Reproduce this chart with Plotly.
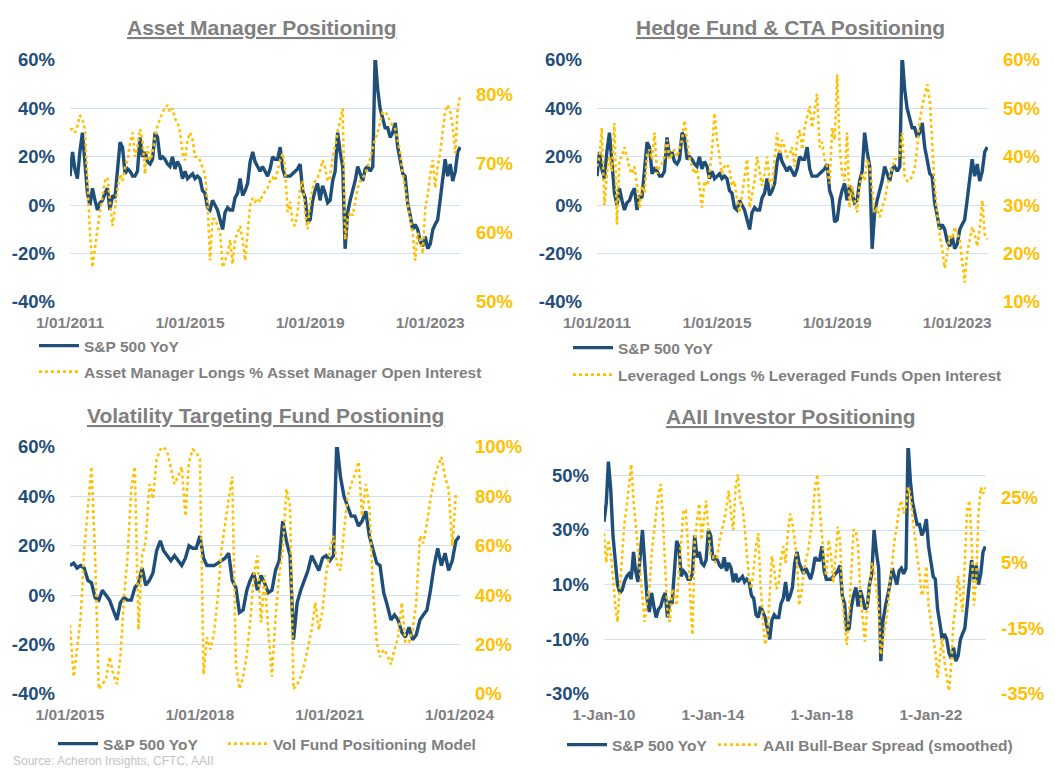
import pandas as pd
import plotly.graph_objects as go

# ---------------- data (monthly) ----------------
# S&P 500 year-on-year change, %, Jan 2010 .. Jan 2024
sp500_yoy = [
    33, 40, 55, 45, 28, 18, 10, 7, 8, 11, 13, 14,            # 2010
    12, 22, 15, 11, 22, 30, 18, 5, 0, 7, 2, -2,              # 2011
    1, 2, 5, 7, -2, 4, 3, 13, 26, 24, 13, 15,                # 2012
    14, 12, 12, 14, 28, 20, 22, 18, 17, 19, 30, 28,          # 2013
    19, 20, 19, 17, 16, 20, 15, 18, 16, 11, 14, 11,          # 2014
    12, 13, 11, 12, 11, 6, 5, -1, -2, 2, 0, -2,              # 2015
    -6, -10, -3, -1, -2, -2, 3, 5, 11, 4, 6, 9,              # 2016
    18, 22, 18, 16, 14, 16, 14, 12, 15, 20, 19, 19,          # 2017
    24, 15, 12, 12, 12, 13, 14, 15, 17, 6, 3, -7,            # 2018
    -6, 2, 6, 9, 2, 8, 5, 1, 2, 10, 14, 30,                  # 2019
    22, 16, -18, -3, 2, 6, 10, 16, 13, 10, 15, 16,           # 2020
    14, 16, 62, 48, 40, 36, 32, 32, 28, 30, 34, 24,          # 2021
    18, 13, 12, 1, -4, -10, -8, -10, -15, -17, -13, -18,     # 2022
    -16, -10, -8, -6, 2, 12, 19, 12, 17, 10, 14, 22,         # 2023
    24,                                                      # 2024
]

# Asset Manager Longs % Asset Manager Open Interest, %, Jan 2011 .. Jan 2024
am_longs = [
    75, 75, 74.5, 75.5, 77, 76.5, 75, 67, 60, 55, 58, 60.5,
    63, 65.5, 67.5, 68, 64.5, 61, 63.5, 66.5, 68.5, 67.5, 69.5, 70.5,
    73, 74.5, 71, 72.5, 75, 73.5, 68.5, 72.5, 70.5, 71.5, 74, 75.5,
    76.5, 77.5, 78, 78.5, 77.5, 78, 76.5, 76, 74.5, 71.5, 70.5, 73.5,
    74.5, 73.5, 71, 71, 70.5, 69.5, 68.5, 64.5, 56, 62, 62, 61,
    60, 55, 56, 57, 59, 55.5, 59, 60, 61, 59, 56, 60,
    64, 65, 64.5, 65, 64.5, 65.5, 66, 66.5, 67.5, 68, 67.5, 69,
    70.5, 71.5, 69.5, 63, 64.5, 61.5, 61, 63, 66.5, 67.5, 63, 60.5,
    64.5, 66.5, 67.5, 68, 69, 70.5, 69.5, 67.5, 68, 71, 72.5, 74.5,
    76.5, 78, 59, 62, 63, 62.5, 64.5, 66.5, 67.5, 68, 68.5, 69.5,
    71, 72.5, 73.5, 74.5, 76, 77.5, 77.5, 77, 76, 75.5, 75, 73.5,
    71.5, 68.5, 66.5, 64, 62, 60, 56, 60, 59, 57, 63.5, 65.5,
    68.5, 70.5, 66.5, 69.5, 71.5, 74.5, 77.5, 78.5, 77.5, 75.5, 71.5, 78,
    80,
]

# Leveraged Longs % Leveraged Funds Open Interest, %, Jan 2011 .. Jan 2024
lev_longs = [
    38, 40, 46, 30, 36.5, 40, 37, 47, 26, 39.5, 40, 42,
    40, 37.5, 36.5, 38, 34, 29.5, 34, 32.5, 40.5, 41.5, 39.5, 45,
    36.5, 38, 38.5, 40, 43.5, 39.5, 40.5, 41.5, 40, 42, 43.5, 47.5,
    43.5, 39.5, 38, 36.5, 37.5, 34, 29.5, 35, 34, 36.5, 41.5, 49,
    43.5, 39.5, 36.5, 38, 38.5, 37.5, 34, 35, 31, 28.5, 32, 35,
    39.5, 29.5, 32.5, 35, 40, 36.5, 34, 36.5, 40, 35, 34, 39.5,
    45, 40.5, 43.5, 42, 40, 40.5, 42, 38, 43.5, 45.5, 41.5, 46,
    48, 50.5, 46, 49.5, 53, 42, 43, 39.5, 38, 34.5, 46, 43.5,
    57, 42, 36.5, 35, 45, 29.5, 34, 31, 28.5, 34, 36.5, 35,
    39.5, 38, 34, 28.5, 29.5, 27.5, 29.5, 31, 34, 36, 38, 39.5,
    39.5, 40.5, 45, 36, 35, 35, 36, 37.5, 42, 47.5, 50.5, 53,
    55, 51.5, 43.5, 34, 28.5, 24, 21, 17, 20, 24, 23, 25.5,
    24, 23, 18.5, 14, 20, 23, 25.5, 24, 21.5, 25, 31, 24,
    23,
]

# Vol Fund Positioning Model, %, Jan 2015 .. Dec 2023
vol_fund = [
    28, 7, 18, 31, 58, 77, 92, 56, 2, 4, 6, 15,
    8, 4, 15, 39, 56, 83, 92, 26, 56, 62, 85, 79,
    95, 99, 100, 98, 91, 85, 88, 92, 72, 94, 99, 98,
    95, 8, 23, 18, 25, 39, 58, 69, 79, 88, 12, 2,
    7, 16, 29, 48, 56, 29, 48, 26, 7, 31, 48, 58,
    83, 76, 2, 4, 7, 12, 19, 26, 37, 26, 34, 48,
    58, 64, 53, 50, 66, 80, 85, 89, 94, 72, 85, 76,
    42, 21, 15, 18, 16, 12, 18, 23, 37, 21, 21, 26,
    37, 64, 61, 69, 79, 87, 92, 96, 88, 83, 60, 81,
]

# AAII Bull-Bear Spread (smoothed), %, Jan 2010 .. Jan 2024
aaii_spread = [
    14, 5, 12, 8, 1, -8, -13, -3, 10, 17, 22, 28,
    35, 24, 17, 10, 4, -5, -13, -6, -3, 8, 15, 20,
    26, 29, 18, 2, -10, -13, -3, -5, -8, 2, 12, 21,
    21, 10, -5, -17, 12, 18, 23, 12, 18, 24, 15, 7,
    7, 5, 7, 12, 15, 18, 22, 27, 20, 15, 28, 32,
    24, 22, 16, 7, 0, -3, 4, 10, 14, -2, -12, -20,
    -17, -5, 7, 3, -3, -1, 6, 10, 5, 14, 20, 17,
    12, 5, -8, -4, 2, 6, 9, 14, 20, 28, 32, 22,
    14, 5, 1, 12, 8, -1, 6, 16, 12, -5, -14, -20,
    -10, 5, 15, 15, 10, -5, -12, -19, -8, -3, 5, 3,
    -3, -9, -23, -18, -13, -9, 0, 5, 12, 16, 22, 24,
    20, 22, 28, 26, 19, 12, 7, 2, -5, -3, 4, -8,
    -13, -18, -22, -30, -24, -18, -25, -30, -34, -26, -13, -8,
    1, -5, -10, 5, 21, 24, 12, -8, 0, 20, 28, 26,
    28,
]

# tick labels
x_ticks_cftc = ["2011-01-01", "2015-01-01", "2019-01-01", "2023-01-01"]
x_text_cftc = ["1/01/2011", "1/01/2015", "1/01/2019", "1/01/2023"]
x_ticks_vol = ["2015-01-01", "2018-01-01", "2021-01-01", "2024-01-01"]
x_text_vol = ["1/01/2015", "1/01/2018", "1/01/2021", "1/01/2024"]
x_ticks_aaii = ["2010-01-01", "2014-01-01", "2018-01-01", "2022-01-01"]
x_text_aaii = ["1-Jan-10", "1-Jan-14", "1-Jan-18", "1-Jan-22"]

left_ticks = [-40, -20, 0, 20, 40, 60]
left_ticks_aaii = [-30, -10, 10, 30, 50]
am_ticks = [50, 60, 70, 80]
lev_ticks = [10, 20, 30, 40, 50, 60]
vol_ticks = [0, 20, 40, 60, 80, 100]
aaii_ticks = [-35, -15, 5, 25]

titles = ["Asset Manager Positioning", "Hedge Fund & CTA Positioning",
          "Volatility Targeting Fund Postioning", "AAII Investor Positioning"]
sp_name = "S&P 500 YoY"
gold_names = ["Asset Manager Longs % Asset Manager Open Interest",
              "Leveraged Longs % Leveraged Funds Open Interest",
              "Vol Fund Positioning Model",
              "AAII Bull-Bear Spread (smoothed)"]

# ---------------- styling ----------------
W, H = 1055, 768
NAVY = "#1f4e79"
GOLD = "#ffc000"
GRAY = "#7f7f7f"
GRID = "#d2e0ef"
FONT = "Arial, 'Liberation Sans', sans-serif"
LEG_OFF = 9  # legend box left edge to symbol start (px)


def px(x):
    return x / W


def py(y):
    return 1 - y / H


def pct(v):
    return [f"{t}%" for t in v]


sp_dates = pd.date_range("2010-01-01", periods=len(sp500_yoy), freq="MS")
sp = pd.Series(sp500_yoy, index=sp_dates)

panels = [
    dict(x0=70, x1=461, y0=60, y1=302, xr=["2011-01-01", "2024-01-10"],
         xt=x_ticks_cftc, xtt=x_text_cftc, lr=[-40, 60], lt=left_ticks,
         rr=[50, 85], rt=am_ticks, start="2011-01-01", gold=am_longs,
         title_xy=(262, 27), leg_sp=(43, 346), leg_gold=(43, 372)),
    dict(x0=597, x1=988, y0=60, y1=302, xr=["2011-01-01", "2024-01-10"],
         xt=x_ticks_cftc, xtt=x_text_cftc, lr=[-40, 60], lt=left_ticks,
         rr=[10, 60], rt=lev_ticks, start="2011-01-01", gold=lev_longs,
         title_xy=(790, 27), leg_sp=(577, 348), leg_gold=(577, 375)),
    dict(x0=70, x1=460, y0=447, y1=694, xr=["2015-01-01", "2024-01-05"],
         xt=x_ticks_vol, xtt=x_text_vol, lr=[-40, 60], lt=left_ticks,
         rr=[0, 100], rt=vol_ticks, start="2015-01-01", gold=vol_fund,
         title_xy=(265, 415), leg_sp=(62, 744), leg_gold=(232, 744)),
    dict(x0=604, x1=986, y0=448, y1=694, xr=["2010-01-01", "2024-01-10"],
         xt=x_ticks_aaii, xtt=x_text_aaii, lr=[-30, 60], lt=left_ticks_aaii,
         rr=[-35, 40], rt=aaii_ticks, start="2010-01-01", gold=aaii_spread,
         title_xy=(791, 416), leg_sp=(571, 745), leg_gold=(722, 745)),
]

fig = go.Figure()
layout = dict(
    width=W, height=H, margin=dict(l=0, r=0, t=0, b=0, autoexpand=False),
    paper_bgcolor="white", plot_bgcolor="white",
    font=dict(family=FONT, color=GRAY),
    annotations=[], showlegend=True,
)


def legend_box(pos):
    sx, sy = pos
    return dict(x=px(sx - LEG_OFF), y=py(sy), xanchor="left", yanchor="middle",
                orientation="v", bgcolor="rgba(0,0,0,0)", borderwidth=0,
                font=dict(family=FONT, size=15.5, color=GRAY, weight="bold"),
                itemwidth=40)


for i, p in enumerate(panels):
    n = i + 1
    xa = "x" if n == 1 else f"x{n}"
    yl = "y" if n == 1 else f"y{2 * n - 1}"
    yr = f"y{2 * n}"
    lg_sp = "legend" if n == 1 else f"legend{2 * n - 1}"
    lg_gold = f"legend{2 * n}"

    s = sp[sp.index >= p["start"]]
    gdates = pd.date_range(p["start"], periods=len(p["gold"]), freq="MS")

    fig.add_trace(go.Scatter(
        x=s.index, y=s.values, mode="lines", name=sp_name,
        line=dict(color=NAVY, width=3.4), xaxis=xa, yaxis=yl, legend=lg_sp,
        hoverinfo="skip"))
    fig.add_trace(go.Scatter(
        x=gdates, y=p["gold"], mode="lines", name=gold_names[i],
        line=dict(color=GOLD, width=2.6, dash="dot"), xaxis=xa, yaxis=yr,
        legend=lg_gold, hoverinfo="skip"))

    xkey = "xaxis" if n == 1 else f"xaxis{n}"
    ylkey = "yaxis" if n == 1 else f"yaxis{2 * n - 1}"
    yrkey = f"yaxis{2 * n}"

    layout[xkey] = dict(
        domain=[px(p["x0"]), px(p["x1"])], range=p["xr"], type="date",
        tickvals=p["xt"], ticktext=p["xtt"], anchor=yl, automargin=False,
        showgrid=False, zeroline=False, showline=False, ticks="",
        ticklabelstandoff=9,
        tickfont=dict(family=FONT, size=15.5, color=GRAY, weight="bold"))
    layout[ylkey] = dict(
        domain=[py(p["y1"]), py(p["y0"])], range=p["lr"], automargin=False,
        tickvals=p["lt"], ticktext=pct(p["lt"]), anchor=xa,
        showgrid=True, gridcolor=GRID, gridwidth=1, zeroline=False,
        showline=False, ticks="", ticklabelstandoff=14,
        tickfont=dict(family=FONT, size=18.5, color=NAVY, weight="bold"))
    layout[yrkey] = dict(
        overlaying=yl, side="right", anchor=xa, range=p["rr"],
        tickvals=p["rt"], ticktext=pct(p["rt"]), automargin=False,
        showgrid=False, zeroline=False, showline=False, ticks="",
        ticklabelstandoff=14,
        tickfont=dict(family=FONT, size=18.5, color=GOLD, weight="bold"))

    layout[lg_sp] = legend_box(p["leg_sp"])
    layout[lg_gold] = legend_box(p["leg_gold"])

    tx, ty = p["title_xy"]
    layout["annotations"].append(dict(
        text=f"<u>{titles[i]}</u>", x=px(tx), y=py(ty), xref="paper",
        yref="paper", xanchor="center", yanchor="middle", showarrow=False,
        font=dict(family=FONT, size=21, color=GRAY, weight="bold")))

layout["annotations"].append(dict(
    text="Source: Acheron Insights, CFTC, AAII", x=px(11), y=py(761),
    xref="paper", yref="paper", xanchor="left", yanchor="middle",
    showarrow=False, font=dict(family=FONT, size=12, color="#c3c3c3")))

fig.update_layout(**layout)
fig.write_html("out.html")
